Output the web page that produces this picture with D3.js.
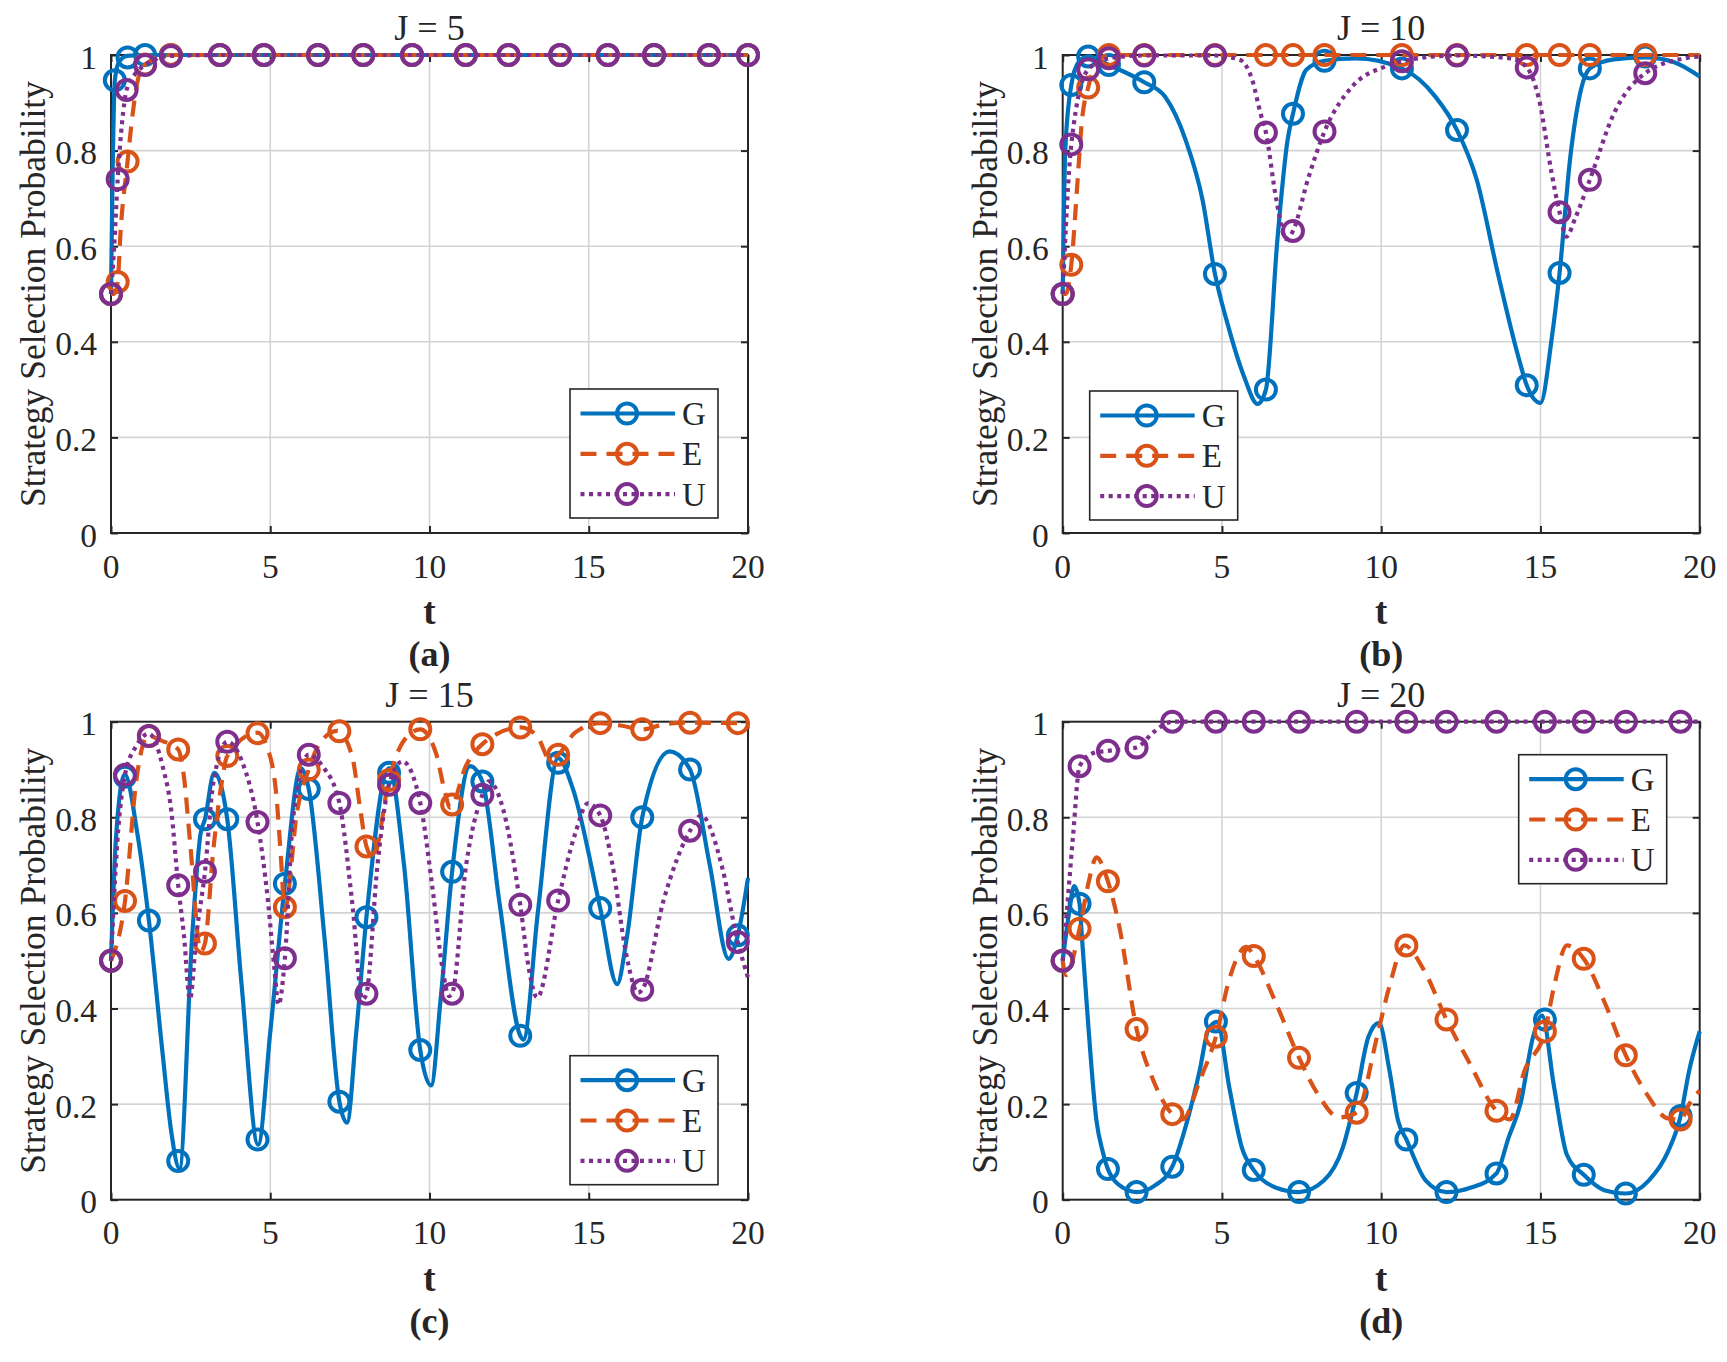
<!DOCTYPE html>
<html>
<head>
<meta charset="utf-8">
<script src="https://cdn.jsdelivr.net/npm/d3@7"></script>
<style>
  body { margin: 0; background: #fff; }
  svg { display: block; }
</style>
</head>
<body>
<div id="chart"></div>
<script>
// ---- data ----
const tTicks = [0, 5, 10, 15, 20];
const pTicks = [0, 0.2, 0.4, 0.6, 0.8, 1];
const seriesNames = ["G", "E", "U"];
const seriesColors = ["#0072BD", "#D95319", "#7E2F8E"];
const panelTitles = ["J = 5", "J = 10", "J = 15", "J = 20"];
const panelTags = ["(a)", "(b)", "(c)", "(d)"];

// (a) J = 5
const aGLine = [[0,0.5],[0.05,0.75],[0.12,0.947],[0.25,0.985],[0.5,0.998],[1.07,1],[20,1]];
const aELine = [[0,0.5],[0.1,0.5],[0.21,0.525],[0.3,0.63],[0.52,0.777],[0.65,0.86],[0.85,0.95],[1.07,0.98],[1.88,1],[20,1]];
const aULine = [[0,0.5],[0.1,0.6],[0.21,0.74],[0.35,0.86],[0.49,0.927],[0.75,0.96],[1.07,0.979],[1.88,0.998],[3.4,1],[20,1]];
const aGMark = [[0,0.5],[0.12,0.947],[0.52,0.995],[1.07,1],[1.88,1],[3.42,1],[4.8,1],[6.5,1],[7.92,1],[9.45,1],[11.14,1],[12.48,1],[14.1,1],[15.6,1],[17.05,1],[18.77,1],[20,1]];
const aEMark = [[0,0.5],[0.21,0.525],[0.52,0.777],[1.07,0.98],[1.88,1],[3.42,1],[4.8,1],[6.5,1],[7.92,1],[9.45,1],[11.14,1],[12.48,1],[14.1,1],[15.6,1],[17.05,1],[18.77,1],[20,1]];
const aUMark = [[0,0.5],[0.21,0.74],[0.49,0.927],[1.07,0.979],[1.88,0.998],[3.42,1],[4.8,1],[6.5,1],[7.92,1],[9.45,1],[11.14,1],[12.48,1],[14.1,1],[15.6,1],[17.05,1],[18.77,1],[20,1]];

// (b) J = 10
const bGLine = [[0,0.5],[0.08,0.8],[0.27,0.937],[0.5,0.985],[0.8,0.997],[1.45,0.979],[2.56,0.943],[3.21,0.913],[3.86,0.822],[4.39,0.697],[4.78,0.542],[5.17,0.439],[5.69,0.328],[6.12,0.27],[6.38,0.3],[6.74,0.613],[7.06,0.822],[7.23,0.877],[7.65,0.969],[8.22,0.988],[9.2,0.993],[10.65,0.972],[11.7,0.913],[12.38,0.843],[13.0,0.739],[13.66,0.544],[14.3,0.37],[14.57,0.309],[15.0,0.272],[15.35,0.405],[15.6,0.544],[15.94,0.788],[16.27,0.927],[16.55,0.972],[17.3,0.991],[18.29,0.995],[19.2,0.985],[20,0.955]];
const bELine = [[0,0.5],[0.1,0.5],[0.27,0.561],[0.47,0.74],[0.6,0.86],[0.8,0.932],[1.1,0.985],[1.45,1],[20,1]];
const bULine = [[0,0.5],[0.27,0.813],[0.8,0.97],[1.45,0.993],[2.56,0.999],[4.78,0.999],[5.56,0.99],[5.95,0.948],[6.21,0.878],[6.38,0.838],[6.7,0.7],[7.02,0.615],[7.23,0.632],[7.7,0.74],[8.22,0.84],[9.09,0.934],[10.13,0.976],[10.65,0.987],[12.38,0.999],[14.05,0.993],[14.57,0.974],[14.96,0.906],[15.35,0.753],[15.6,0.671],[15.81,0.62],[16.1,0.66],[16.55,0.739],[17.31,0.878],[18.29,0.962],[19.53,0.993],[20,0.997]];
const bGMark = [[0,0.5],[0.27,0.937],[0.8,0.997],[1.45,0.979],[2.56,0.943],[4.78,0.542],[6.38,0.3],[7.23,0.877],[8.22,0.988],[10.65,0.972],[12.38,0.843],[14.57,0.309],[15.6,0.544],[16.55,0.972],[18.29,0.997]];
const bEMark = [[0,0.5],[0.27,0.561],[0.8,0.932],[1.45,1],[2.56,1],[4.78,1],[6.38,1],[7.23,1],[8.22,1],[10.65,1],[12.38,1],[14.57,1],[15.6,1],[16.55,1],[18.29,1]];
const bUMark = [[0,0.5],[0.27,0.813],[0.8,0.97],[1.45,0.993],[2.56,0.999],[4.78,0.999],[6.38,0.838],[7.23,0.632],[8.22,0.84],[10.65,0.987],[12.38,0.999],[14.57,0.974],[15.6,0.671],[16.55,0.739],[18.29,0.962]];

// (c) J = 15
const cGLine = [[0,0.5],[0.15,0.75],[0.43,0.89],[0.83,0.765],[1.19,0.584],[1.62,0.306],[1.89,0.143],[2.15,0.065],[2.55,0.553],[2.81,0.765],[2.95,0.796],[3.24,0.893],[3.65,0.796],[4.1,0.45],[4.62,0.115],[5.0,0.35],[5.46,0.661],[5.96,0.903],[6.21,0.859],[6.7,0.55],[7.17,0.205],[7.41,0.161],[7.7,0.35],[8.02,0.591],[8.73,0.903],[9.2,0.7],[9.71,0.313],[10.05,0.239],[10.35,0.42],[10.71,0.686],[11.27,0.907],[11.66,0.875],[12.2,0.62],[12.85,0.343],[12.95,0.335],[13.4,0.6],[14.04,0.924],[14.5,0.86],[15.36,0.61],[15.89,0.451],[16.2,0.55],[16.68,0.8],[17.54,0.938],[18.18,0.9],[18.8,0.7],[19.39,0.504],[19.68,0.553],[20,0.673]];
const cELine = [[0,0.5],[0.44,0.625],[0.8,0.88],[1.16,0.97],[1.6,0.96],[2.11,0.942],[2.29,0.885],[2.48,0.75],[2.82,0.52],[2.95,0.536],[3.21,0.73],[3.47,0.87],[3.65,0.928],[4.6,0.977],[4.93,0.942],[5.2,0.84],[5.35,0.7],[5.45,0.605],[5.85,0.815],[6.21,0.9],[6.51,0.95],[7.1,0.981],[7.57,0.928],[7.83,0.815],[8.02,0.739],[8.23,0.716],[8.73,0.878],[9.15,0.956],[9.71,0.984],[10.2,0.935],[10.47,0.857],[10.65,0.82],[11.14,0.907],[11.66,0.953],[12.85,0.988],[13.38,0.97],[13.78,0.921],[14.04,0.931],[14.57,0.977],[15.36,0.997],[16.0,0.992],[16.68,0.984],[17.4,0.995],[18.18,0.998],[19.68,0.997],[20,1]];
const cULine = [[0,0.5],[0.2,0.75],[0.44,0.889],[0.8,0.95],[1.19,0.975],[1.62,0.907],[1.89,0.815],[2.11,0.658],[2.29,0.553],[2.48,0.419],[2.68,0.553],[2.95,0.686],[3.21,0.871],[3.65,0.958],[4.13,0.914],[4.6,0.79],[4.93,0.624],[5.13,0.483],[5.26,0.408],[5.46,0.505],[5.72,0.8],[6.21,0.931],[6.64,0.907],[7.17,0.83],[7.57,0.624],[7.9,0.419],[8.02,0.431],[8.36,0.695],[8.73,0.868],[9.15,0.917],[9.71,0.83],[10.08,0.659],[10.41,0.483],[10.61,0.426],[10.71,0.431],[11.14,0.695],[11.66,0.847],[11.86,0.875],[12.32,0.815],[12.85,0.617],[13.12,0.483],[13.38,0.423],[14.04,0.626],[14.57,0.765],[14.97,0.829],[15.36,0.804],[15.76,0.695],[16.16,0.519],[16.55,0.433],[16.68,0.439],[17.34,0.624],[18.18,0.772],[18.53,0.804],[19.19,0.695],[19.68,0.539],[20,0.465]];
const cMarkT = [0,0.44,1.19,2.11,2.95,3.65,4.6,5.46,6.21,7.17,8.02,8.73,9.71,10.71,11.66,12.85,14.04,15.36,16.68,18.18,19.68];
const cGMarkP = [0.5,0.885,0.584,0.081,0.796,0.796,0.126,0.661,0.859,0.205,0.591,0.893,0.313,0.686,0.875,0.343,0.914,0.61,0.8,0.9,0.553];
const cEMarkP = [0.5,0.625,0.97,0.942,0.536,0.928,0.976,0.612,0.9,0.98,0.739,0.878,0.984,0.827,0.953,0.988,0.931,0.997,0.984,0.998,0.997];
const cUMarkP = [0.5,0.889,0.97,0.658,0.686,0.958,0.79,0.505,0.931,0.83,0.431,0.868,0.83,0.431,0.847,0.617,0.626,0.804,0.439,0.772,0.539];

// (d) J = 20
const dGLine = [[0,0.5],[0.2,0.6],[0.36,0.656],[0.53,0.619],[0.6,0.553],[0.79,0.377],[1.06,0.165],[1.26,0.1],[1.42,0.064],[1.9,0.025],[2.32,0.016],[2.9,0.03],[3.44,0.069],[3.91,0.165],[4.3,0.27],[4.57,0.355],[4.85,0.372],[5.23,0.235],[5.63,0.108],[6.0,0.062],[6.7,0.025],[7.42,0.016],[8.2,0.04],[8.8,0.11],[9.23,0.223],[9.6,0.341],[9.93,0.37],[10.26,0.27],[10.53,0.165],[10.79,0.126],[11.4,0.04],[12.05,0.016],[12.8,0.025],[13.62,0.055],[14.0,0.13],[14.37,0.2],[14.77,0.341],[15.05,0.385],[15.43,0.235],[15.83,0.094],[16.36,0.052],[17.0,0.02],[17.68,0.013],[18.4,0.04],[19.0,0.1],[19.4,0.175],[19.67,0.27],[20,0.352]];
const dELine = [[0,0.5],[0.1,0.47],[0.53,0.567],[0.8,0.66],[1.06,0.716],[1.42,0.666],[1.79,0.567],[2.32,0.357],[2.85,0.249],[3.44,0.179],[3.77,0.168],[4.3,0.249],[4.81,0.341],[5.23,0.461],[5.76,0.529],[6.0,0.51],[6.69,0.412],[7.42,0.297],[8.01,0.221],[8.68,0.172],[9.23,0.182],[9.87,0.341],[10.26,0.447],[10.73,0.532],[11.32,0.483],[12.05,0.377],[12.78,0.285],[13.62,0.186],[14.04,0.168],[14.5,0.27],[15.14,0.352],[15.43,0.447],[15.83,0.532],[16.36,0.504],[17.02,0.412],[17.68,0.302],[18.34,0.221],[19.0,0.17],[19.4,0.168],[19.67,0.2],[20,0.228]];
const dULine = [[0,0.5],[0.15,0.62],[0.33,0.765],[0.53,0.907],[0.99,0.935],[1.42,0.939],[2.32,0.946],[2.85,0.978],[3.44,1],[20,1]];
const dMarkT = [0,0.53,1.42,2.32,3.44,4.81,6.0,7.42,9.23,10.79,12.05,13.62,15.14,16.36,17.68,19.4];
const dGMarkP = [0.5,0.619,0.064,0.016,0.069,0.373,0.062,0.016,0.223,0.126,0.016,0.055,0.377,0.052,0.013,0.175];
const dEMarkP = [0.5,0.567,0.666,0.357,0.179,0.341,0.51,0.297,0.182,0.532,0.377,0.186,0.352,0.504,0.302,0.168];
const dUMarkP = [0.5,0.907,0.939,0.946,1,1,1,1,1,1,1,1,1,1,1,1];

const zip = (ts, ps) => ts.map((t, i) => [t, ps[i]]);

const panels = [
  { col: 0, row: 0, lines: [aGLine, aELine, aULine], marks: [aGMark, aEMark, aUMark], legend: "br" },
  { col: 1, row: 0, lines: [bGLine, bELine, bULine], marks: [bGMark, bEMark, bUMark], legend: "bl" },
  { col: 0, row: 1, lines: [cGLine, cELine, cULine], marks: [zip(cMarkT, cGMarkP), zip(cMarkT, cEMarkP), zip(cMarkT, cUMarkP)], legend: "br" },
  { col: 1, row: 1, lines: [dGLine, dELine, dULine], marks: [zip(dMarkT, dGMarkP), zip(dMarkT, dEMarkP), zip(dMarkT, dUMarkP)], legend: "tr" }
];

// ---- layout ----
const totalW = 1727, totalH = 1362;
const W = 637, H = 478;
const lefts = [111, 1062.7], tops = [55, 721.7];
const serif = "Liberation Serif, Times New Roman, Times, serif";
const dashes = [null, "16,10", "4,4.5"];
const lineW = 4.2, markR = 10, markW = 4;
const legW = 148, legH = 129;

const svg = d3.select("#chart").append("svg")
  .attr("width", totalW).attr("height", totalH);

function label(g, str, x, y, o) {
  return g.append("text")
    .attr("transform", `translate(${x},${y})${o.rotate ? " rotate(-90)" : ""}`)
    .attr("text-anchor", o.anchor || "middle")
    .attr("font-family", serif)
    .attr("font-size", o.size)
    .attr("font-weight", o.bold ? "bold" : "normal")
    .attr("fill", "#262626")
    .text(str);
}

panels.forEach((p, k) => {
  const g = svg.append("g")
    .attr("transform", `translate(${lefts[p.col]},${tops[p.row]})`);

  const x = d3.scaleLinear().domain([0, 20]).range([0, W]);
  const y = d3.scaleLinear().domain([0, 1]).range([H, 0]);

  // grid
  g.append("g").selectAll("line").data(tTicks.slice(1, -1)).join("line")
    .attr("x1", d => x(d)).attr("x2", d => x(d)).attr("y1", 0).attr("y2", H)
    .attr("stroke", "#d4d4d4").attr("stroke-width", 1.6);
  g.append("g").selectAll("line").data(pTicks.slice(1, -1)).join("line")
    .attr("y1", d => y(d)).attr("y2", d => y(d)).attr("x1", 0).attr("x2", W)
    .attr("stroke", "#d4d4d4").attr("stroke-width", 1.6);

  // axes with inward ticks on all four sides
  const axStyle = sel => {
    sel.select(".domain").remove();
    sel.selectAll("line").attr("stroke", "#262626").attr("stroke-width", 2);
    sel.selectAll("text").remove();
  };
  g.append("g").attr("transform", `translate(0,${H})`)
    .call(d3.axisBottom(x).tickValues(tTicks).tickSizeInner(-7).tickSizeOuter(0)).call(axStyle);
  g.append("g")
    .call(d3.axisTop(x).tickValues(tTicks).tickSizeInner(-7).tickSizeOuter(0)).call(axStyle);
  g.append("g")
    .call(d3.axisLeft(y).tickValues(pTicks).tickSizeInner(-7).tickSizeOuter(0)).call(axStyle);
  g.append("g").attr("transform", `translate(${W},0)`)
    .call(d3.axisRight(y).tickValues(pTicks).tickSizeInner(-7).tickSizeOuter(0)).call(axStyle);
  g.append("rect").attr("width", W).attr("height", H)
    .attr("fill", "none").attr("stroke", "#262626").attr("stroke-width", 2);

  // tick labels
  tTicks.forEach(t => label(g, d3.format("")(t), x(t), H + 44.5, { size: 33.5 }));
  pTicks.forEach(v => label(g, d3.format("")(v), -14, y(v) + 13.5, { size: 33.5, anchor: "end" }));

  // titles and labels
  label(g, panelTitles[k], W / 2, -15, { size: 36 });
  label(g, "t", W / 2, H + 91, { size: 37, bold: true });
  label(g, panelTags[k], W / 2, H + 133, { size: 36, bold: true });
  label(g, "Strategy Selection Probability", -66, H / 2, { size: 35.5, rotate: true });

  // series: line + circle markers, drawn G, E, U
  const line = d3.line().x(d => x(d[0])).y(d => y(d[1])).curve(d3.curveMonotoneX);
  p.lines.forEach((pts, s) => {
    const sg = g.append("g");
    sg.append("path").attr("d", line(pts))
      .attr("fill", "none").attr("stroke", seriesColors[s])
      .attr("stroke-width", lineW)
      .attr("stroke-dasharray", dashes[s]);
    sg.selectAll("circle").data(p.marks[s]).join("circle")
      .attr("cx", d => x(d[0])).attr("cy", d => y(d[1])).attr("r", markR)
      .attr("fill", "none").attr("stroke", seriesColors[s]).attr("stroke-width", markW);
  });

  // legend
  let lx, ly;
  if (p.legend === "br") { lx = W - 30 - legW; ly = H - 15 - legH; }
  else if (p.legend === "bl") { lx = 27; ly = H - 13 - legH; }
  else { lx = W - 33 - legW; ly = 33; }
  const lg = g.append("g").attr("transform", `translate(${lx},${ly})`);
  lg.append("rect").attr("width", legW).attr("height", legH)
    .attr("fill", "#fff").attr("stroke", "#262626").attr("stroke-width", 1.6);
  seriesNames.forEach((name, s) => {
    const ry = 24.5 + s * 40.3;
    lg.append("line").attr("x1", 10.5).attr("x2", 105).attr("y1", ry).attr("y2", ry)
      .attr("stroke", seriesColors[s]).attr("stroke-width", lineW)
      .attr("stroke-dasharray", dashes[s]);
    lg.append("circle").attr("cx", 57).attr("cy", ry).attr("r", markR)
      .attr("fill", "none").attr("stroke", seriesColors[s]).attr("stroke-width", markW);
    label(lg, name, 112, ry + 11.5, { size: 33, anchor: "start" });
  });
});
</script>
</body>
</html>
